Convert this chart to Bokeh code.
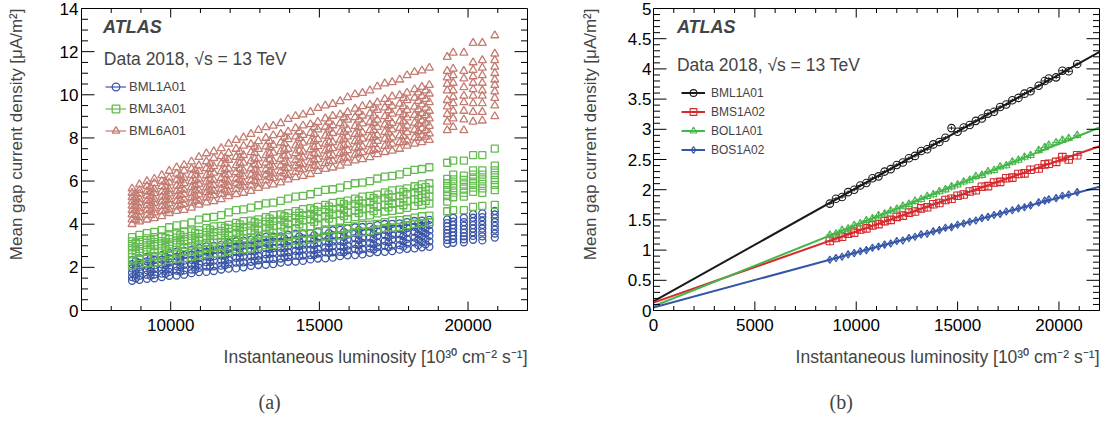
from bokeh.plotting import figure
from bokeh.models import (Legend, LegendItem, Label, Title, Range1d,
                          SingleIntervalTicker, NumeralTickFormatter, ColumnDataSource)
from bokeh.layouts import row
from bokeh.embed import file_html
from bokeh.resources import INLINE

FONT = "Liberation Sans"
SERIF = "Liberation Serif"

# ---------------- Panel (a) data ----------------
X_ALL = [8700, 8950, 9200, 9450, 9700, 9950, 10200, 10450, 10700, 10950, 11200, 11450,
         11700, 11950, 12200, 12450, 12700, 12950, 13200, 13450, 13700, 13950, 14200,
         14450, 14700, 14950, 15200, 15450, 15700, 15950, 16200, 16450, 16700, 16950,
         17200, 17450, 17700, 17950, 18200, 18450, 18700]
X_MID = [8825, 9325, 9825, 10325, 10825, 11325, 11825, 12325, 12825, 13325, 13825,
         14325, 14825, 15325, 15825, 16325, 16825, 17325, 17825, 18325, 18575]
X_CLUSTER = [19300, 19500, 19860, 20170, 20480, 20900]

BML1A01_ROWS = [
    [2.35, 2.43, 2.49, 2.52, 2.57, 2.66, 2.73, 2.76, 2.81, 2.90, 2.97, 3.00, 3.04, 3.13, 3.21, 3.24, 3.28, 3.35, 3.41, 3.42, 3.44,
     3.51, 3.56, 3.57, 3.59, 3.66, 3.71, 3.72, 3.74, 3.81, 3.86, 3.87, 3.89, 3.96, 4.01, 4.02, 4.04, 4.10, 4.15, 4.17, 4.20],
    [2.15, 2.21, 2.28, 2.34, 2.36, 2.41, 2.50, 2.57, 2.59, 2.64, 2.73, 2.80, 2.82, 2.86, 2.95, 3.02, 3.03, 3.07, 3.14, 3.19, 3.19,
     3.22, 3.29, 3.34, 3.34, 3.37, 3.44, 3.49, 3.49, 3.52, 3.59, 3.64, 3.64, 3.67, 3.74, 3.79, 3.79, 3.82, 3.88, 3.93, 3.96],
    [1.95, 2.02, 2.07, 2.09, 2.14, 2.22, 2.29, 2.31, 2.35, 2.43, 2.50, 2.52, 2.55, 2.64, 2.71, 2.73, 2.76, 2.83, 2.89, 2.89, 2.91,
     2.98, 3.04, 3.05, 3.07, 3.14, 3.20, 3.20, 3.22, 3.29, 3.35, 3.36, 3.38, 3.45, 3.50, 3.51, 3.53, 3.60, 3.65, 3.67, 3.70],
    [1.75, 1.80, 1.87, 1.92, 1.93, 1.97, 2.05, 2.12, 2.13, 2.16, 2.24, 2.31, 2.32, 2.36, 2.44, 2.50, 2.51, 2.54, 2.61, 2.67, 2.67,
     2.70, 2.77, 2.82, 2.82, 2.85, 2.92, 2.98, 2.98, 3.01, 3.08, 3.13, 3.13, 3.16, 3.23, 3.29, 3.29, 3.32, 3.38, 3.43, 3.46],
    [1.55, 1.61, 1.66, 1.67, 1.71, 1.79, 1.85, 1.86, 1.90, 1.98, 2.04, 2.05, 2.08, 2.16, 2.22, 2.23, 2.26, 2.33, 2.39, 2.39, 2.41,
     2.48, 2.54, 2.55, 2.57, 2.64, 2.70, 2.70, 2.72, 2.79, 2.85, 2.85, 2.88, 2.94, 3.00, 3.01, 3.03, 3.10, 3.16, 3.17, 3.20],
    [1.38, 1.42, 1.47, 1.49, 1.55, 1.61, 1.62, 1.66, 1.73, 1.78, 1.79, 1.83, 1.90, 1.94, 1.95, 2.00, 2.07, 2.11, 2.12, 2.15, 2.22,
     2.26, 2.27, 2.30, 2.37, 2.41, 2.42, 2.45, 2.52, 2.56, 2.57, 2.60, 2.67, 2.71, 2.72, 2.75, 2.82, 2.86, 2.88, 2.93, 2.95],
]
BML1A01_MID_ROWS = [
    [2.29, 2.41, 2.50, 2.64, 2.74, 2.88, 2.96, 3.11, 3.18, 3.29, 3.34, 3.44, 3.49, 3.59, 3.64, 3.74, 3.79, 3.89, 3.94, 4.03, 4.07],
    [2.09, 2.21, 2.30, 2.43, 2.53, 2.67, 2.75, 2.89, 2.96, 3.07, 3.12, 3.21, 3.26, 3.36, 3.41, 3.50, 3.55, 3.65, 3.70, 3.78, 3.82],
    [1.89, 2.01, 2.10, 2.22, 2.32, 2.46, 2.53, 2.67, 2.74, 2.85, 2.90, 2.98, 3.03, 3.13, 3.17, 3.26, 3.31, 3.41, 3.45, 3.53, 3.57],
    [1.69, 1.81, 1.90, 2.01, 2.11, 2.25, 2.32, 2.45, 2.52, 2.63, 2.68, 2.75, 2.80, 2.90, 2.94, 3.02, 3.07, 3.17, 3.21, 3.28, 3.32],
    [1.49, 1.61, 1.70, 1.80, 1.90, 2.04, 2.10, 2.23, 2.30, 2.41, 2.46, 2.52, 2.57, 2.67, 2.70, 2.78, 2.83, 2.93, 2.96, 3.03, 3.07],
]
BML1A01_CLUSTERS = [
    [4.22, 4.05, 3.90, 3.74, 3.58, 3.42, 3.27, 3.09],
    [4.30, 4.12, 3.96, 3.80, 3.63, 3.47, 3.31, 3.14],
    [4.30, 4.10, 3.93, 3.76, 3.60, 3.44, 3.30, 3.16],
    [4.47, 4.30, 4.13, 3.96, 3.80, 3.63, 3.46, 3.28],
    [4.50, 4.33, 4.15, 3.97, 3.80, 3.62, 3.44, 3.25],
    [4.62, 4.45, 4.28, 4.10, 3.92, 3.75, 3.57, 3.38],
]

BML3A01_ROWS = [
    [3.40, 3.51, 3.59, 3.64, 3.73, 3.86, 3.95, 3.99, 4.08, 4.21, 4.30, 4.34, 4.42, 4.55, 4.65, 4.69, 4.77, 4.88, 4.97, 5.00, 5.08,
     5.19, 5.28, 5.31, 5.39, 5.50, 5.59, 5.62, 5.70, 5.81, 5.90, 5.93, 6.00, 6.12, 6.21, 6.24, 6.31, 6.43, 6.52, 6.56, 6.64],
    [3.20, 3.26, 3.34, 3.40, 3.43, 3.48, 3.57, 3.64, 3.67, 3.73, 3.82, 3.90, 3.92, 3.97, 4.06, 4.14, 4.17, 4.22, 4.33, 4.42, 4.45,
     4.51, 4.61, 4.70, 4.74, 4.80, 4.90, 4.99, 5.03, 5.09, 5.19, 5.28, 5.31, 5.37, 5.48, 5.57, 5.60, 5.66, 5.76, 5.85, 5.90],
    [3.00, 3.08, 3.14, 3.17, 3.22, 3.31, 3.38, 3.41, 3.46, 3.55, 3.62, 3.64, 3.69, 3.79, 3.86, 3.88, 3.93, 4.03, 4.12, 4.15, 4.21,
     4.31, 4.39, 4.42, 4.48, 4.58, 4.67, 4.70, 4.76, 4.86, 4.94, 4.97, 5.03, 5.13, 5.22, 5.25, 5.31, 5.41, 5.49, 5.53, 5.60],
    [2.80, 2.86, 2.93, 2.99, 3.01, 3.06, 3.14, 3.21, 3.24, 3.29, 3.38, 3.45, 3.47, 3.51, 3.60, 3.67, 3.70, 3.75, 3.84, 3.93, 3.96,
     4.01, 4.10, 4.19, 4.22, 4.27, 4.37, 4.46, 4.49, 4.54, 4.63, 4.72, 4.75, 4.80, 4.89, 4.98, 5.01, 5.06, 5.15, 5.23, 5.28],
    [2.60, 2.67, 2.72, 2.73, 2.78, 2.86, 2.93, 2.94, 2.98, 3.06, 3.13, 3.14, 3.18, 3.26, 3.33, 3.34, 3.38, 3.47, 3.56, 3.59, 3.64,
     3.73, 3.82, 3.85, 3.90, 3.99, 4.08, 4.11, 4.16, 4.25, 4.33, 4.36, 4.41, 4.50, 4.59, 4.62, 4.67, 4.76, 4.85, 4.89, 4.95],
    [2.32, 2.37, 2.44, 2.50, 2.52, 2.57, 2.65, 2.72, 2.74, 2.78, 2.86, 2.93, 2.95, 2.99, 3.08, 3.15, 3.16, 3.20, 3.28, 3.35, 3.37,
     3.41, 3.49, 3.56, 3.57, 3.61, 3.69, 3.76, 3.78, 3.82, 3.90, 3.97, 3.98, 4.02, 4.10, 4.17, 4.19, 4.23, 4.31, 4.37, 4.40],
    [2.08, 2.15, 2.20, 2.22, 2.27, 2.35, 2.42, 2.43, 2.47, 2.55, 2.62, 2.63, 2.68, 2.76, 2.83, 2.84, 2.88, 2.96, 3.03, 3.04, 3.08,
     3.16, 3.23, 3.24, 3.28, 3.36, 3.43, 3.44, 3.48, 3.56, 3.63, 3.64, 3.68, 3.76, 3.83, 3.84, 3.88, 3.96, 4.03, 4.05, 4.10],
]
BML3A01_MID_ROWS = [
    [3.14, 3.26, 3.36, 3.50, 3.60, 3.75, 3.84, 3.99, 4.09, 4.26, 4.37, 4.53, 4.65, 4.82, 4.94, 5.10, 5.21, 5.38, 5.50, 5.66, 5.72],
    [2.94, 3.05, 3.15, 3.28, 3.38, 3.52, 3.60, 3.75, 3.84, 4.01, 4.11, 4.26, 4.38, 4.54, 4.66, 4.81, 4.91, 5.08, 5.19, 5.35, 5.40],
    [2.74, 2.84, 2.94, 3.06, 3.16, 3.29, 3.36, 3.51, 3.59, 3.76, 3.85, 3.99, 4.11, 4.26, 4.38, 4.52, 4.61, 4.78, 4.88, 5.04, 5.08],
]
BML3A01_CLUSTERS = [
    [6.85, 6.10, 5.90, 5.70, 5.50, 5.30, 5.05, 4.60],
    [6.95, 6.30, 6.08, 5.88, 5.67, 5.46, 5.25, 4.65],
    [6.95, 6.25, 6.05, 5.85, 5.65, 5.45, 5.28, 4.65],
    [7.20, 6.50, 6.30, 6.10, 5.90, 5.70, 5.50, 4.80],
    [7.20, 6.50, 6.30, 6.08, 5.87, 5.66, 5.45, 4.85],
    [7.50, 6.72, 6.50, 6.28, 6.05, 5.82, 5.58, 4.90],
]

BML6A01_ROWS = [
    [5.65, 5.84, 5.99, 6.10, 6.27, 6.47, 6.63, 6.74, 6.90, 7.11, 7.28, 7.37, 7.52, 7.73, 7.90, 8.02, 8.18, 8.36, 8.49, 8.56, 8.68,
     8.87, 9.01, 9.08, 9.20, 9.38, 9.50, 9.57, 9.70, 9.88, 10.02, 10.08, 10.20, 10.38, 10.52, 10.58, 10.70, 10.90, 11.05, 11.12, 11.25],
    [5.45, 5.59, 5.77, 5.90, 6.00, 6.15, 6.34, 6.48, 6.57, 6.72, 6.91, 7.06, 7.15, 7.30, 7.49, 7.63, 7.71, 7.84, 8.00, 8.12, 8.18,
     8.29, 8.45, 8.57, 8.63, 8.74, 8.90, 9.02, 9.08, 9.19, 9.35, 9.47, 9.53, 9.64, 9.80, 9.92, 9.98, 10.09, 10.25, 10.36, 10.45],
    [5.25, 5.41, 5.53, 5.62, 5.76, 5.93, 6.06, 6.15, 6.28, 6.45, 6.59, 6.68, 6.81, 6.98, 7.11, 7.20, 7.33, 7.48, 7.60, 7.67, 7.78,
     7.94, 8.06, 8.13, 8.23, 8.39, 8.51, 8.58, 8.68, 8.84, 8.96, 9.03, 9.13, 9.29, 9.41, 9.48, 9.58, 9.74, 9.86, 9.94, 10.05],
    [5.05, 5.17, 5.32, 5.43, 5.50, 5.62, 5.78, 5.90, 5.98, 6.10, 6.26, 6.38, 6.45, 6.57, 6.73, 6.85, 6.93, 7.04, 7.19, 7.31, 7.38,
     7.49, 7.65, 7.77, 7.83, 7.94, 8.10, 8.22, 8.28, 8.39, 8.55, 8.67, 8.73, 8.84, 9.00, 9.12, 9.18, 9.29, 9.44, 9.55, 9.65],
    [4.85, 4.99, 5.09, 5.16, 5.27, 5.42, 5.53, 5.60, 5.71, 5.86, 5.97, 6.04, 6.14, 6.30, 6.41, 6.48, 6.58, 6.73, 6.85, 6.92, 7.02,
     7.17, 7.29, 7.36, 7.46, 7.61, 7.73, 7.80, 7.91, 8.06, 8.18, 8.25, 8.35, 8.50, 8.62, 8.69, 8.79, 8.94, 9.06, 9.14, 9.25],
    [4.65, 4.75, 4.88, 4.98, 5.05, 5.15, 5.29, 5.39, 5.46, 5.56, 5.70, 5.81, 5.87, 5.97, 6.11, 6.22, 6.29, 6.39, 6.54, 6.66, 6.72,
     6.82, 6.97, 7.09, 7.16, 7.26, 7.41, 7.52, 7.59, 7.69, 7.84, 7.96, 8.02, 8.12, 8.27, 8.39, 8.46, 8.56, 8.70, 8.80, 8.90],
    [4.45, 4.58, 4.67, 4.73, 4.83, 4.97, 5.08, 5.14, 5.23, 5.37, 5.48, 5.54, 5.63, 5.77, 5.88, 5.94, 6.03, 6.18, 6.29, 6.35, 6.45,
     6.60, 6.71, 6.77, 6.86, 7.01, 7.12, 7.18, 7.28, 7.43, 7.54, 7.60, 7.70, 7.85, 7.96, 8.02, 8.11, 8.26, 8.37, 8.45, 8.55],
    [4.22, 4.32, 4.44, 4.54, 4.60, 4.69, 4.82, 4.93, 4.99, 5.09, 5.23, 5.34, 5.40, 5.48, 5.62, 5.73, 5.79, 5.88, 6.02, 6.13, 6.19,
     6.28, 6.42, 6.53, 6.59, 6.68, 6.82, 6.93, 6.99, 7.08, 7.22, 7.33, 7.39, 7.48, 7.62, 7.73, 7.79, 7.88, 8.02, 8.12, 8.20],
    [4.00, 4.12, 4.21, 4.27, 4.37, 4.51, 4.61, 4.66, 4.76, 4.90, 5.00, 5.06, 5.15, 5.29, 5.39, 5.45, 5.54, 5.68, 5.78, 5.84, 5.93,
     6.07, 6.17, 6.23, 6.32, 6.46, 6.56, 6.62, 6.71, 6.85, 6.95, 7.01, 7.10, 7.24, 7.34, 7.40, 7.49, 7.63, 7.73, 7.80, 7.90],
]
BML6A01_MID_ROWS = [
    [5.43, 5.70, 5.96, 6.26, 6.51, 6.81, 7.06, 7.36, 7.59, 7.85, 8.05, 8.30, 8.50, 8.75, 8.95, 9.20, 9.40, 9.65, 9.85, 10.10, 10.20],
    [5.23, 5.49, 5.74, 6.03, 6.27, 6.56, 6.80, 7.09, 7.31, 7.56, 7.75, 7.99, 8.18, 8.42, 8.61, 8.85, 9.04, 9.28, 9.47, 9.71, 9.80],
    [5.03, 5.28, 5.52, 5.80, 6.03, 6.31, 6.54, 6.82, 7.03, 7.27, 7.45, 7.68, 7.86, 8.09, 8.27, 8.50, 8.68, 8.91, 9.09, 9.32, 9.40],
    [4.83, 5.07, 5.30, 5.58, 5.80, 6.07, 6.30, 6.57, 6.77, 7.00, 7.17, 7.40, 7.57, 7.79, 7.96, 8.19, 8.36, 8.58, 8.76, 8.98, 9.05],
    [4.63, 4.86, 5.09, 5.36, 5.57, 5.83, 6.06, 6.32, 6.51, 6.73, 6.90, 7.12, 7.28, 7.49, 7.66, 7.88, 8.04, 8.25, 8.43, 8.64, 8.70],
    [4.41, 4.63, 4.86, 5.12, 5.32, 5.58, 5.80, 6.05, 6.24, 6.45, 6.61, 6.83, 6.98, 7.19, 7.35, 7.56, 7.72, 7.92, 8.09, 8.30, 8.35],
    [4.19, 4.41, 4.63, 4.89, 5.08, 5.34, 5.56, 5.80, 5.99, 6.19, 6.35, 6.57, 6.71, 6.92, 7.07, 7.28, 7.44, 7.63, 7.80, 8.00, 8.05],
]
BML6A01_CLUSTERS = [
    [11.75, 11.10, 10.80, 10.50, 10.20, 9.75, 9.45, 9.10, 8.75, 8.35],
    [11.95, 11.20, 10.90, 10.55, 10.20, 9.90, 9.60, 9.25, 8.90, 8.50],
    [11.95, 11.10, 10.75, 10.35, 9.95, 9.65, 9.25, 8.85, 8.35],
    [12.40, 11.50, 11.15, 10.85, 10.55, 10.25, 9.95, 9.60, 9.20, 8.75],
    [12.40, 11.60, 11.25, 10.90, 10.55, 10.20, 9.95, 9.60, 9.20, 8.80],
    [12.75, 11.90, 11.60, 11.30, 11.00, 10.70, 10.45, 10.15, 9.85, 9.50, 9.00],
]

LEFT_NAMES = ["BML1A01", "BML3A01", "BML6A01"]
LEFT_COLORS = ["#3a55a6", "#63bc4e", "#c47b71"]
LEFT_MARKERS = ["circle", "square", "triangle"]

# ---------------- Panel (b) data ----------------
RIGHT_X = [8700, 9000, 9300, 9600, 9900, 10200, 10500, 10800, 11100, 11400, 11700,
           12000, 12300, 12600, 12900, 13200, 13500, 13800, 14100, 14400, 14700,
           15000, 15300, 15600, 15900, 16200, 16500, 16800, 17100, 17400, 17700,
           18000, 18300, 18600, 19000, 19300, 19500, 19860, 20170, 20480, 20900]
BML1A01_B = [1.77, 1.85, 1.88, 1.96, 2.00, 2.07, 2.11, 2.19, 2.22, 2.30, 2.34, 2.41, 2.45, 2.52,
             2.56, 2.64, 2.67, 2.75, 2.79, 2.86, 3.02, 2.96, 3.03, 3.07, 3.14, 3.18, 3.26, 3.29,
             3.37, 3.41, 3.48, 3.52, 3.59, 3.63, 3.72, 3.80, 3.84, 3.86, 3.97, 3.96, 4.08]
BMS1A02_B = [1.15, 1.20, 1.22, 1.27, 1.29, 1.34, 1.36, 1.41, 1.43, 1.48, 1.50, 1.55, 1.57, 1.62,
             1.64, 1.69, 1.71, 1.76, 1.78, 1.83, 1.85, 1.90, 1.92, 1.97, 1.99, 2.05, 2.06, 2.12,
             2.13, 2.19, 2.20, 2.26, 2.27, 2.33, 2.35, 2.42, 2.43, 2.46, 2.54, 2.50, 2.57]
BOL1A01_B = [1.25, 1.27, 1.33, 1.35, 1.41, 1.44, 1.49, 1.52, 1.57, 1.60, 1.65, 1.68, 1.73, 1.76,
             1.81, 1.84, 1.89, 1.92, 1.97, 2.00, 2.05, 2.08, 2.13, 2.16, 2.22, 2.24, 2.30, 2.32,
             2.38, 2.40, 2.46, 2.49, 2.54, 2.57, 2.65, 2.70, 2.74, 2.78, 2.82, 2.85, 2.90]
BOS1A02_B = [0.84, 0.87, 0.89, 0.93, 0.95, 0.98, 1.00, 1.04, 1.06, 1.09, 1.11, 1.15, 1.16, 1.20,
             1.22, 1.26, 1.27, 1.31, 1.33, 1.37, 1.38, 1.42, 1.44, 1.47, 1.49, 1.53, 1.55, 1.58,
             1.60, 1.64, 1.66, 1.69, 1.71, 1.74, 1.79, 1.82, 1.84, 1.86, 1.90, 1.92, 1.96]
RIGHT_NAMES = ["BML1A01", "BMS1A02", "BOL1A01", "BOS1A02"]
RIGHT_COLORS = ["#1a1a1a", "#d42a2e", "#45b649", "#3556a8"]
RIGHT_MARKERS = ["circle", "square", "triangle", "diamond"]
RIGHT_YERR = [0.03, 0.07, 0.06, 0.04]
RIGHT_XERR = [150, 250, 200, 150]
FIT_X = [0, 22000]
FIT_Y = [[0.15, 4.28], [0.13, 2.72], [0.07, 3.03], [0.05, 2.05]]

Y_TITLE = "Mean gap current density [μA/m²]"
X_TITLE = "Instantaneous luminosity [10³⁰ cm⁻² s⁻¹]"

FRAME_W = 446
FRAME_H = 302


def style(p, xtick, ytick, ystand, ytitle_stand, yfmt=None):
    p.xgrid.visible = False
    p.ygrid.visible = False
    p.outline_line_color = "black"
    xa = p.xaxis[0]
    ya = p.yaxis[0]
    xa.ticker = xtick
    ya.ticker = ytick
    if yfmt is not None:
        ya.formatter = yfmt
    for ax in (xa, ya):
        ax.major_tick_in = 0
        ax.major_tick_out = 0
        ax.minor_tick_in = 0
        ax.minor_tick_out = 0
        ax.major_tick_line_color = None
        ax.minor_tick_line_color = None
        ax.axis_line_color = "black"
        ax.major_label_text_font = FONT
        ax.major_label_text_font_size = "17px"
        ax.major_label_text_color = "black"
    xa.major_label_standoff = 8
    ya.major_label_standoff = ystand
    p.add_layout(Title(text=Y_TITLE, align="right", vertical_align="top", text_font=FONT,
                       text_font_size="17px", text_font_style="normal",
                       standoff=ytitle_stand), "left")


def inward_ticks(p, xr, yr, x_major, x_minor, y_major, y_minor):
    dx = (xr[1] - xr[0]) / FRAME_W
    dy = (yr[1] - yr[0]) / FRAME_H
    x0, y0, x1, y1 = [], [], [], []
    for ticks, length in ((x_major, 9), (x_minor, 4.5)):
        for t in ticks:
            x0 += [t, t]
            x1 += [t, t]
            y0 += [yr[0], yr[1]]
            y1 += [yr[0] + length * dy, yr[1] - length * dy]
    for ticks, length in ((y_major, 13), (y_minor, 6.5)):
        for t in ticks:
            y0 += [t, t]
            y1 += [t, t]
            x0 += [xr[0], xr[1]]
            x1 += [xr[0] + length * dx, xr[1] - length * dx]
    p.segment(x0, y0, x1, y1, line_color="black", line_width=1)


def add_titles(p, caption, caption_offset):
    p.add_layout(Title(text=X_TITLE, align="right", vertical_align="top", text_font=FONT,
                       text_font_size="17.5px", text_font_style="normal",
                       standoff=27), "below")
    p.add_layout(Title(text=caption, align="left", offset=caption_offset,
                       text_font=SERIF, text_font_size="20px", text_font_style="normal",
                       standoff=12), "below")


# ---------------- Panel (a) ----------------
p1 = figure(width=580, height=418, x_range=Range1d(7000, 22000), y_range=Range1d(0, 14),
            output_backend="svg", toolbar_location=None, margin=(0, 0, 0, -25),
            min_border_left=106, min_border_right=28, min_border_top=8, min_border_bottom=108)
style(p1, SingleIntervalTicker(interval=5000), SingleIntervalTicker(interval=2), 3, 58)

items = []
for name, rows, mid_rows, clusters, color, marker in zip(
        LEFT_NAMES, [BML1A01_ROWS, BML3A01_ROWS, BML6A01_ROWS],
        [BML1A01_MID_ROWS, BML3A01_MID_ROWS, BML6A01_MID_ROWS],
        [BML1A01_CLUSTERS, BML3A01_CLUSTERS, BML6A01_CLUSTERS],
        LEFT_COLORS, LEFT_MARKERS):
    xs, ys = [], []
    for r in rows:
        xs += X_ALL
        ys += r
    for r in mid_rows:
        xs += X_MID
        ys += r
    for xc, col in zip(X_CLUSTER, clusters):
        xs += [xc] * len(col)
        ys += col
    src = ColumnDataSource(dict(x=xs, y=ys))
    sc = p1.scatter("x", "y", source=src, marker=marker,
                    size=8 if marker == "triangle" else 7,
                    line_color=color, fill_color=None, line_width=1.3)
    ln = p1.line([float("nan")], [float("nan")], line_color=color, line_width=1.2)
    items.append(LegendItem(label=name, renderers=[ln, sc]))

inward_ticks(p1, (7000, 22000), (0, 14),
             [10000, 15000, 20000],
             [t for t in range(8000, 22000, 1000) if t % 5000],
             [2, 4, 6, 8, 10, 12],
             [k * 0.5 for k in range(1, 28) if k % 4])

leg1 = Legend(items=items, location=(24, 170), glyph_width=21, glyph_height=19,
              label_height=19, spacing=3, padding=0, margin=0, label_standoff=3,
              label_text_font=FONT, label_text_font_size="13px",
              border_line_alpha=0, background_fill_alpha=0)
p1.add_layout(leg1)
p1.add_layout(Label(x=7727, y=13.13, text="ATLAS", text_font=FONT, text_font_size="18px",
                    text_font_style="bold italic", text_baseline="middle"))
p1.add_layout(Label(x=7750, y=11.67, text="Data 2018, √s = 13 TeV", text_font=FONT,
                    text_font_size="17.5px", text_baseline="middle"))
add_titles(p1, "(a)", 177)

# ---------------- Panel (b) ----------------
p2 = figure(width=548, height=418, x_range=Range1d(0, 22000), y_range=Range1d(0, 5),
            output_backend="svg", toolbar_location=None,
            min_border_left=98, min_border_right=4, min_border_top=8, min_border_bottom=108)
style(p2, SingleIntervalTicker(interval=5000), SingleIntervalTicker(interval=0.5), 2, 46,
      NumeralTickFormatter(format="0.[0]"))

items2 = []
for name, ys, color, marker, yerr, xerr, fy in zip(
        RIGHT_NAMES, [BML1A01_B, BMS1A02_B, BOL1A01_B, BOS1A02_B],
        RIGHT_COLORS, RIGHT_MARKERS, RIGHT_YERR, RIGHT_XERR, FIT_Y):
    src = ColumnDataSource(dict(
        x=RIGHT_X, y=ys,
        ylo=[v - yerr for v in ys], yhi=[v + yerr for v in ys],
        xlo=[v - xerr for v in RIGHT_X], xhi=[v + xerr for v in RIGHT_X]))
    p2.segment("x", "ylo", "x", "yhi", source=src, line_color=color, line_width=1)
    p2.segment("xlo", "y", "xhi", "y", source=src, line_color=color, line_width=1)
    sc = p2.scatter("x", "y", source=src, marker=marker, size=7.5,
                    line_color=color, fill_color=None, line_width=1.1)
    ln = p2.line(FIT_X, fy, line_color=color, line_width=2)
    items2.append(LegendItem(label=name, renderers=[ln, sc]))

inward_ticks(p2, (0, 22000), (0, 5),
             [5000, 10000, 15000, 20000],
             [t for t in range(1000, 22000, 1000) if t % 5000],
             [k * 0.5 for k in range(1, 10)],
             [k * 0.1 for k in range(1, 50) if k % 5])

leg2 = Legend(items=items2, location=(28, 152), glyph_width=24, glyph_height=17,
              label_height=17, spacing=2, padding=0, margin=0, label_standoff=6,
              label_text_font=FONT, label_text_font_size="12px",
              border_line_alpha=0, background_fill_alpha=0)
p2.add_layout(leg2)
p2.add_layout(Label(x=1154, y=4.69, text="ATLAS", text_font=FONT, text_font_size="18px",
                    text_font_style="bold italic", text_baseline="middle"))
p2.add_layout(Label(x=1154, y=4.06, text="Data 2018, √s = 13 TeV", text_font=FONT,
                    text_font_size="17.5px", text_baseline="middle"))
add_titles(p2, "(b)", 176)

layout = row(p1, p2)
open("out.html", "w").write(file_html(layout, INLINE))
